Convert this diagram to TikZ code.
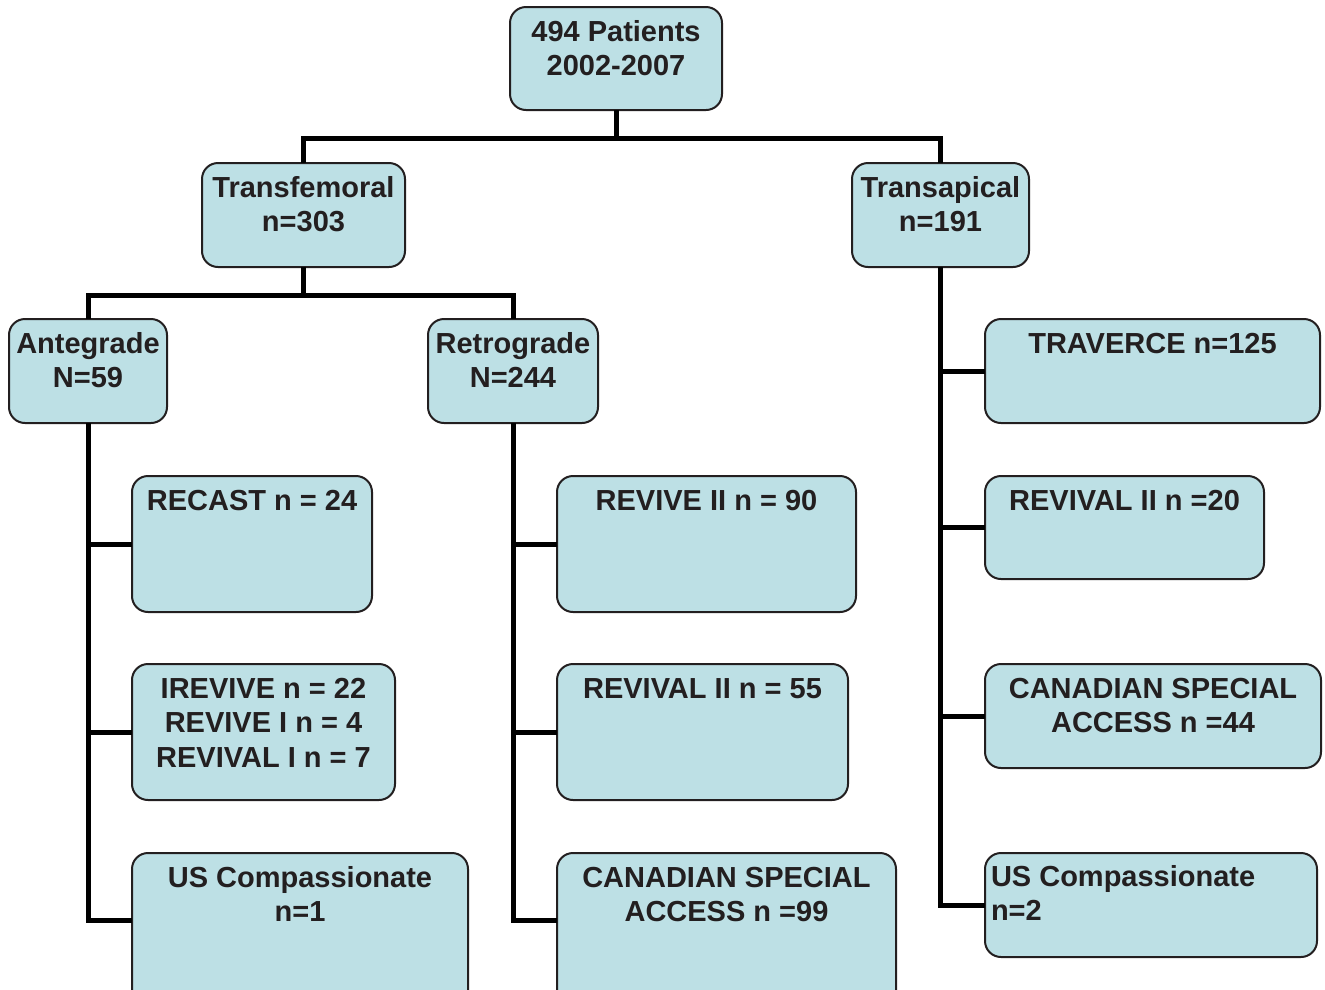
\documentclass[tikz,border=0pt]{standalone}
\usepackage{fontspec}
\setmainfont{Liberation Sans}
\definecolor{boxfill}{HTML}{BDE0E5}
\definecolor{ink}{HTML}{231F20}
\newcommand\bxc[3]{\parbox[t][#2][t]{#1}{\centering\rule{0pt}{34pt}#3}}
\tikzset{
  bx/.style={draw=ink, line width=2pt, fill=boxfill, rounded corners=16pt,
    inner sep=0pt, outer sep=0pt, anchor=north west, text=ink,
    font=\fontsize{29}{34.5}\selectfont\bfseries},
  conn/.style={draw=black, line width=5pt}
}
\begin{document}
\begin{tikzpicture}[x=1pt,y=-1pt]
\useasboundingbox (0,0) rectangle (1325,989);
\node[bx] (b0) at (510,7) {\bxc{212pt}{103pt}{494 Patients\\2002-2007}};
\node[bx] (tf) at (202,163) {\bxc{203pt}{104pt}{Transfemoral\\n=303}};
\node[bx] (ta) at (852,163) {\bxc{177pt}{104pt}{Transapical\\n=191}};
\node[bx] (ant) at (9,319) {\bxc{158pt}{104pt}{Antegrade\\N=59}};
\node[bx] (ret) at (428,319) {\bxc{170pt}{104pt}{Retrograde\\N=244}};
\node[bx] (recast) at (132,476) {\bxc{240pt}{136pt}{RECAST n = 24}};
\node[bx] (irev) at (132,664) {\bxc{263pt}{136pt}{IREVIVE n = 22\\REVIVE I n = 4\\REVIVAL I n = 7}};
\node[bx] (usl) at (132,853) {\bxc{336pt}{156pt}{US Compassionate\\n=1}};
\node[bx] (rev2) at (557,476) {\bxc{299pt}{136pt}{REVIVE II n = 90}};
\node[bx] (rval55) at (557,664) {\bxc{291pt}{136pt}{REVIVAL II n = 55}};
\node[bx] (can99) at (557,853) {\bxc{339pt}{156pt}{CANADIAN SPECIAL\\ACCESS n =99}};
\node[bx] (trav) at (985,319) {\bxc{335pt}{104pt}{TRAVERCE n=125}};
\node[bx] (rval20) at (985,476) {\bxc{279pt}{103pt}{REVIVAL II n =20}};
\node[bx] (can44) at (985,664) {\bxc{336pt}{104pt}{CANADIAN SPECIAL\\ACCESS n =44}};
\node[bx] (usr) at (985,853) {\parbox[t][104pt][t]{332pt}{\raggedright\hspace*{6pt}\rule{0pt}{33pt}US Compassionate\\\hspace*{6pt}n=2}};
% connectors
\draw[conn] (b0.south) -- ++(0,28) -| (tf.north);
\draw[conn] (b0.south) -- ++(0,28) -| (ta.north);
\draw[conn] (tf.south) -- ++(0,28) -| (ant.north);
\draw[conn] (tf.south) -- ++(0,28) -| (ret.north);
\draw[conn] (ant.south) |- (recast.west);
\draw[conn] (ant.south) |- (irev.west);
\draw[conn] (ant.south) |- ([yshift=11pt]usl.west);
\draw[conn] (ret.south) |- (rev2.west);
\draw[conn] (ret.south) |- (rval55.west);
\draw[conn] (ret.south) |- ([yshift=11pt]can99.west);
\draw[conn] (ta.south) |- (trav.west);
\draw[conn] (ta.south) |- (rval20.west);
\draw[conn] (ta.south) |- (can44.west);
\draw[conn] (ta.south) |- (usr.west);
\end{tikzpicture}
\end{document}
